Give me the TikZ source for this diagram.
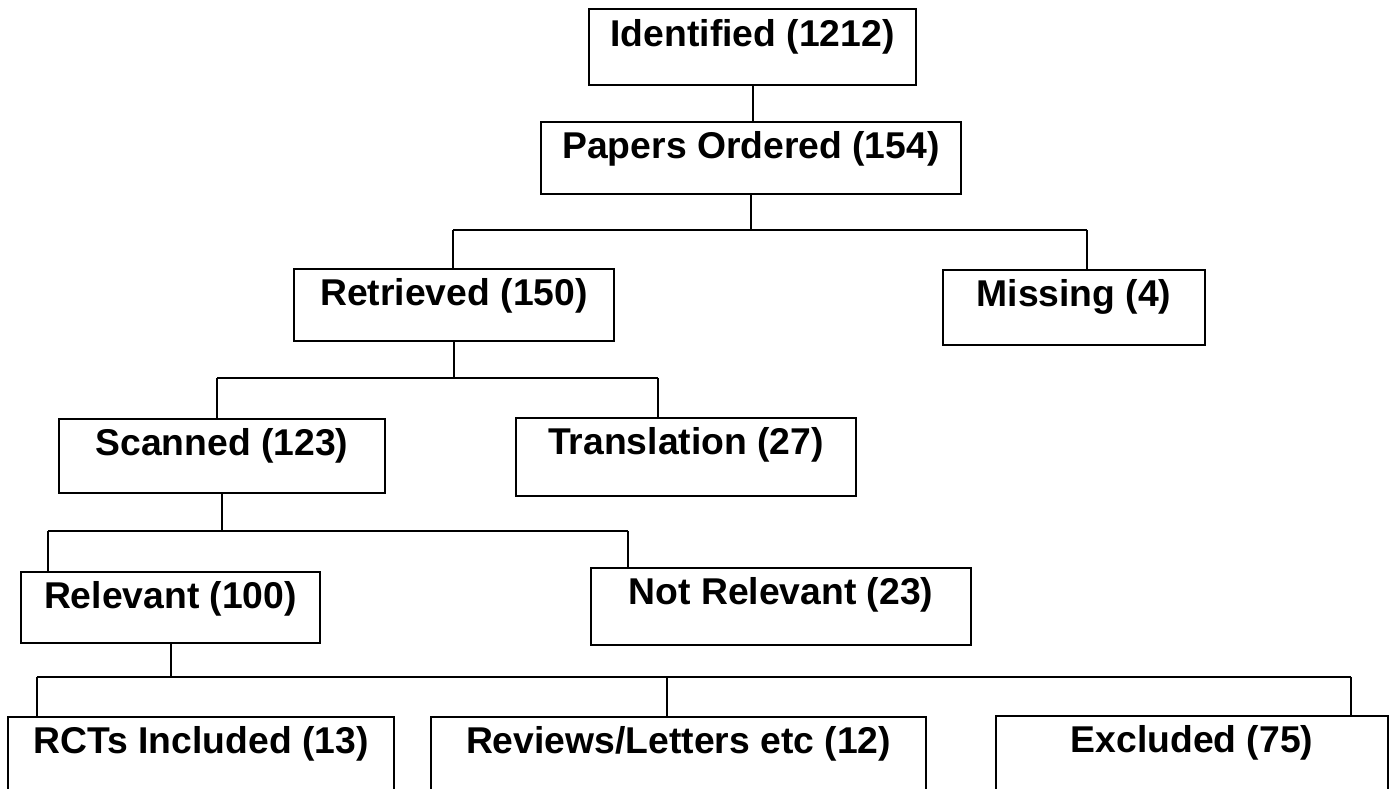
\documentclass[tikz,border=0pt]{standalone}
\usepackage{fontspec}
\setmainfont{Liberation Sans}
\usepackage{xcolor}
\usepackage{tikz}
\tikzset{%
  flowbox/.style={draw, rectangle, anchor=north, line width=0.02cm, inner xsep=0pt, inner ysep=0pt, text height=0.37cm, font=\fontsize{0.373cm}{0.45cm}\selectfont\bfseries},%
  joinline/.style={line width=0.02cm}%
}
\begin{document}
\begin{tikzpicture}%
\useasboundingbox (0,0) rectangle (13.96,-7.89);%
\node[flowbox, minimum width=3.27cm, text depth=0.39cm] (ident) at (7.525, -0.085) {Identified (1212)};%
\node[flowbox, minimum width=4.20cm, text depth=0.35cm] (papers) at (7.51, -1.21) {Papers Ordered (154)};%
\node[flowbox, minimum width=3.20cm, text depth=0.35cm] (retr) at (4.54, -2.68) {Retrieved (150)};%
\node[flowbox, minimum width=2.62cm, text depth=0.38cm] (miss) at (10.74, -2.69) {Missing (4)};%
\node[flowbox, minimum width=3.26cm, text depth=0.37cm] (scan) at (2.22, -4.18) {Scanned (123)};%
\node[flowbox, minimum width=3.40cm, text depth=0.41cm] (trans) at (6.86, -4.17) {Translation (27)};%
\node[flowbox, minimum width=2.99cm, text depth=0.34cm] (rel) at (1.705, -5.71) {Relevant (100)};%
\node[flowbox, minimum width=3.80cm, text depth=0.40cm] (notrel) at (7.81, -5.67) {Not Relevant (23)};%
\node[flowbox, minimum width=3.86cm, text depth=0.63cm] (rcts) at (2.01, -7.16) {RCTs Included (13)};%
\node[flowbox, minimum width=4.95cm, text depth=0.63cm] (reviews) at (6.785, -7.16) {Reviews/Letters etc (12)};%
\node[flowbox, minimum width=3.92cm, text depth=0.64cm] (excl) at (11.92, -7.15) {Excluded (75)};%
\coordinate (papersL) at (4.53, -2.30);%
\coordinate (papersR) at (10.87, -2.30);%
\coordinate (retrL) at (2.17, -3.78);%
\coordinate (retrR) at (6.58, -3.78);%
\coordinate (scanL) at (0.48, -5.31);%
\coordinate (scanR) at (6.28, -5.31);%
\coordinate (relL) at (0.37, -6.77);%
\coordinate (relM) at (6.67, -6.77);%
\coordinate (relR) at (13.51, -6.77);%
\draw[joinline] (ident.south) -- (ident.south |- papers.north);%
\draw[joinline] (papers.south) -- (papers.south |- papersL);%
\draw[joinline] (papersL) -- (papersR);%
\draw[joinline] (papersL) -- (papersL |- retr.north);%
\draw[joinline] (papersR) -- (papersR |- miss.north);%
\draw[joinline] (retr.south) -- (retr.south |- retrL);%
\draw[joinline] (retrL) -- (retrR);%
\draw[joinline] (retrL) -- (retrL |- scan.north);%
\draw[joinline] (retrR) -- (retrR |- trans.north);%
\draw[joinline] (scan.south) -- (scan.south |- scanL);%
\draw[joinline] (scanL) -- (scanR);%
\draw[joinline] (scanL) -- (scanL |- rel.north);%
\draw[joinline] (scanR) -- (scanR |- notrel.north);%
\draw[joinline] (rel.south) -- (rel.south |- relL);%
\draw[joinline] (relL) -- (relR);%
\draw[joinline] (relL) -- (relL |- rcts.north);%
\draw[joinline] (relM) -- (relM |- reviews.north);%
\draw[joinline] (relR) -- (relR |- excl.north);%
\end{tikzpicture}
\end{document}
